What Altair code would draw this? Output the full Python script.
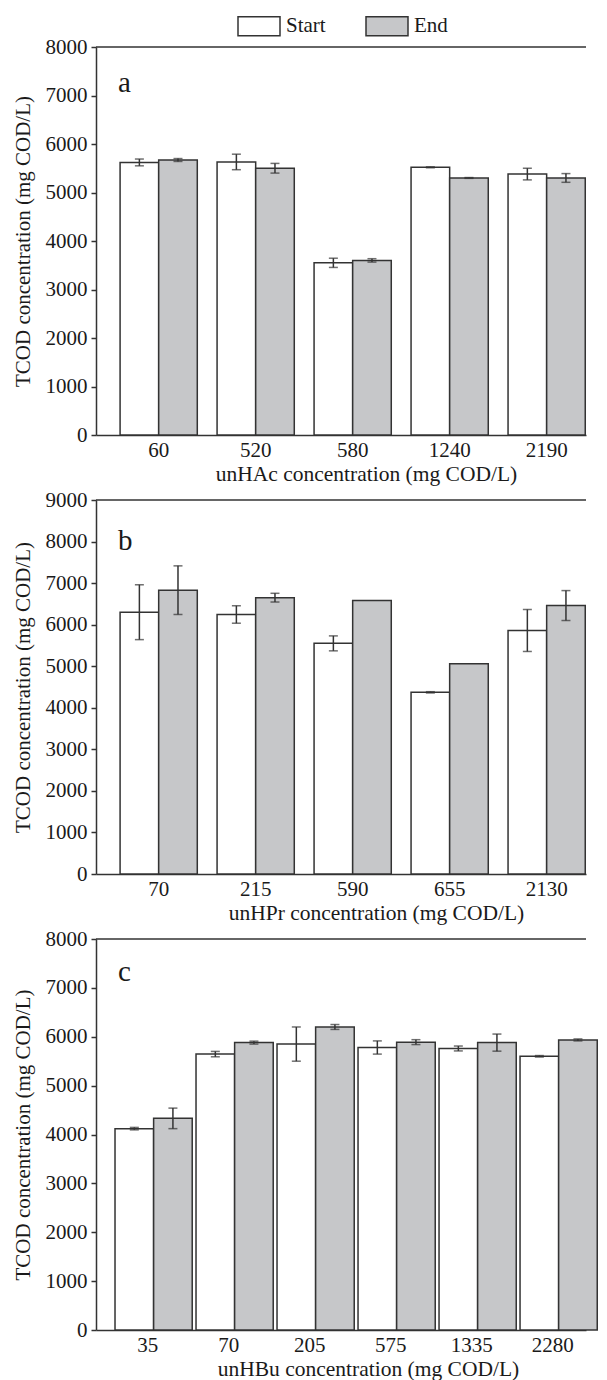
import altair as alt
import pandas as pd

FONT = "Liberation Serif"
INK = "#333333"
TXT = "#1a1a1a"
series = ["Start", "End"]
fills = ["#ffffff", "#c6c7c9"]
ytitle = "TCOD concentration (mg COD/L)"

a_cats = ["60", "520", "580", "1240", "2190"]
a_start = [5620, 5630, 3550, 5520, 5380]
a_start_err = [70, 160, 95, 10, 120]
a_end = [5670, 5500, 3600, 5300, 5300]
a_end_err = [30, 100, 35, 8, 90]

b_cats = ["70", "215", "590", "655", "2130"]
b_start = [6300, 6245, 5550, 4372, 5860]
b_start_err = [660, 210, 180, 15, 505]
b_end = [6830, 6650, 6580, 5060, 6460]
b_end_err = [585, 105, 0, 0, 360]

c_cats = ["35", "70", "205", "575", "1335", "2280"]
c_start = [4120, 5645, 5850, 5780, 5760, 5600]
c_start_err = [25, 55, 350, 135, 50, 15]
c_end = [4330, 5880, 6200, 5890, 5880, 5935]
c_end_err = [210, 30, 50, 50, 175, 20]

PW = 490


def panel(cats, st, se, en, ee, ymax, height, xtitle, title_x, letter, letter_y,
          pi, po, align, legend):
    rows = []
    for i, c in enumerate(cats):
        rows.append({"cat": c, "series": "Start", "value": st[i], "err": se[i]})
        rows.append({"cat": c, "series": "End", "value": en[i], "err": ee[i]})
    df = pd.DataFrame(rows)
    df["lo"] = df["value"] - df["err"]
    df["hi"] = df["value"] + df["err"]
    edf = df[df["err"] > 0]

    x = alt.X("cat:N", sort=cats,
              scale=alt.Scale(domain=cats, paddingInner=pi, paddingOuter=po, align=align),
              axis=alt.Axis(title=xtitle, ticks=False, labelAngle=0, labelPadding=4,
                            titlePadding=3, titleX=title_x, titleFontSize=21.5,
                            domainColor=INK, domainWidth=1.5))
    xo = alt.XOffset("series:N", sort=series,
                     scale=alt.Scale(domain=series, paddingInner=0, paddingOuter=0))
    yscale = alt.Scale(domain=[0, ymax], nice=False)
    y = alt.Y("value:Q", scale=yscale,
              axis=alt.Axis(title=ytitle, values=list(range(0, ymax + 1, 1000)), format="d",
                            grid=False, tickSize=5, labelPadding=4, titlePadding=12,
                            domainColor=INK, tickColor=INK, domainWidth=1.5, tickWidth=1.5))
    fill = alt.Fill("series:N", sort=series,
                    scale=alt.Scale(domain=series, range=fills), legend=legend)

    bars = alt.Chart(df).mark_bar(stroke=INK, strokeWidth=1.5).encode(
        x=x, xOffset=xo, y=y, fill=fill)
    rule = alt.Chart(edf).mark_rule(color=INK, strokeWidth=1.5).encode(
        x=alt.X("cat:N", sort=cats), xOffset=alt.XOffset("series:N", sort=series),
        y=alt.Y("lo:Q", scale=yscale), y2="hi:Q")
    cap_lo = alt.Chart(edf).mark_tick(color=INK, orient="horizontal", size=9, thickness=1.5).encode(
        x=alt.X("cat:N", sort=cats), xOffset=alt.XOffset("series:N", sort=series),
        y=alt.Y("lo:Q", scale=yscale))
    cap_hi = alt.Chart(edf).mark_tick(color=INK, orient="horizontal", size=9, thickness=1.5).encode(
        x=alt.X("cat:N", sort=cats), xOffset=alt.XOffset("series:N", sort=series),
        y=alt.Y("hi:Q", scale=yscale))
    top = alt.Chart(pd.DataFrame({"k": [0]})).mark_rule(color=INK, strokeWidth=1.5).encode(
        y=alt.datum(ymax))
    lab = alt.Chart(pd.DataFrame({"letter": [letter]})).mark_text(
        align="left", baseline="alphabetic", font=FONT, fontSize=29, color=TXT).encode(
        text="letter:N", x=alt.value(22), y=alt.value(letter_y))
    return alt.layer(bars, rule, cap_lo, cap_hi, top, lab).properties(width=PW, height=height)


leg = alt.Legend(orient="none", legendX=141, legendY=-43, direction="horizontal", title=None,
                 padding=0, symbolType="M-1,-0.452H1V0.452H-1Z", symbolSize=1764,
                 symbolStrokeColor=INK, symbolStrokeWidth=1.5, symbolOpacity=1,
                 labelFont=FONT, labelFontSize=21, labelColor=TXT, labelOffset=5,
                 columnPadding=37)

pa = panel(a_cats, a_start, a_start_err, a_end, a_end_err, 8000, 388,
           "unHAc concentration (mg COD/L)", 270, "a", 45, 0.204, 0.128, 0.97, leg)
pb = panel(b_cats, b_start, b_start_err, b_end, b_end_err, 9000, 374,
           "unHPr concentration (mg COD/L)", 280, "b", 50, 0.204, 0.128, 0.97, None)
pc = panel(c_cats, c_start, c_start_err, c_end, c_end_err, 8000, 391,
           "unHBu concentration (mg COD/L)", 272, "c", 42, 0.193, 0.121, 0.97, None)

chart = alt.vconcat(pa, pb, pc, spacing=4).resolve_scale(fill="independent").properties(
    padding={"left": 4, "top": -4, "right": 0, "bottom": 0}
).configure_view(strokeWidth=0).configure_axis(
    labelFont=FONT, titleFont=FONT, labelFontSize=21, titleFontSize=21,
    labelColor=TXT, titleColor=TXT, titleFontWeight="normal"
)

chart.save("out.html", embed_options={"renderer": "svg", "actions": False})
